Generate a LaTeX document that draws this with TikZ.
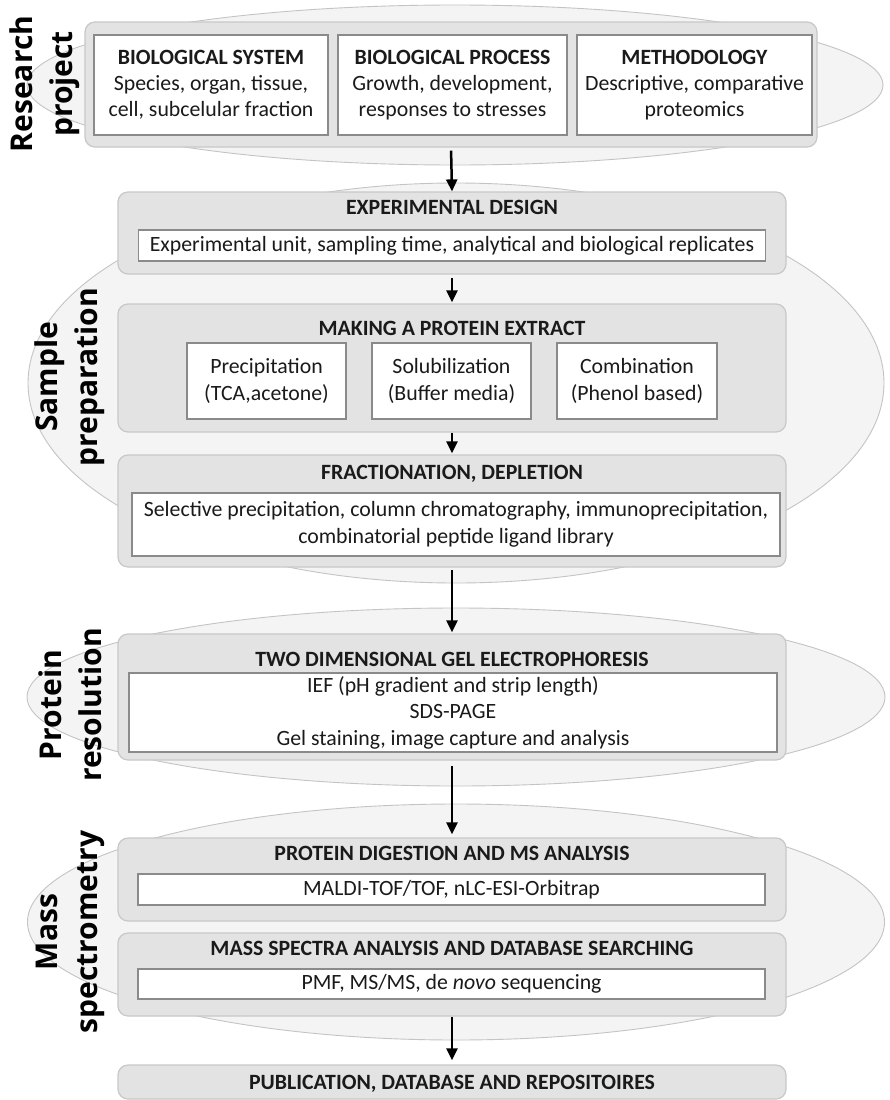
\documentclass[tikz,border=0pt]{standalone}
\usepackage{fontspec}
\setmainfont{Carlito}
\newfontfamily\labfont{Open Sans}
\usetikzlibrary{shapes.geometric,arrows.meta}
\definecolor{ellfill}{HTML}{F4F4F4}
\definecolor{elldraw}{HTML}{C4C4C4}
\definecolor{boxfill}{HTML}{E3E3E3}
\definecolor{boxdraw}{HTML}{C8C8C8}
\definecolor{inndraw}{HTML}{8A8A8A}
\definecolor{txt}{HTML}{1A1A1A}
\begin{document}
\begin{tikzpicture}[x=1pt,y=-1pt,
  ell/.style={ellipse,draw=elldraw,fill=ellfill,line width=0.9pt,inner sep=0pt},
  obox/.style={rectangle,rounded corners=10pt,draw=boxdraw,fill=boxfill,line width=1.2pt,inner sep=0pt,minimum width=668pt},
  ibox/.style={rectangle,draw=inndraw,fill=white,line width=1.3pt,inner sep=0pt,align=center,text=txt,
    font=\fontsize{21.8}{26.5}\selectfont},
  tbox/.style={ibox,font=\fontsize{21.8}{26}\selectfont},
  ttl/.style={inner sep=0pt,text=txt,font=\fontsize{21.8}{26}\selectfont\bfseries,text height=14pt,text depth=0pt},
  lab/.style={inner sep=0pt,rotate=90,align=center,text=black,font=\labfont\bfseries\fontsize{30}{40}\selectfont},
  arr/.style={-{Triangle[length=12pt,width=11pt]},line width=2.5pt,black}
]
\useasboundingbox (0,0) rectangle (889,1100);
\fill[white] (0,0) rectangle (889,1100);

% background ellipses
\node[ell,minimum width=856pt,minimum height=160pt] (e1) at (455,85) {};
\node[ell,minimum width=856pt,minimum height=400pt] (e2) at (456,383) {};
\node[ell,minimum width=858pt,minimum height=178pt] (e3) at (456,697) {};
\node[ell,minimum width=857pt,minimum height=236pt] (e4) at (456,922) {};

% side labels
\node[lab] (l1) at (45,84) {Research\\project};
\node[lab] (l2) at (70,377) {Sample\\preparation};
\node[lab] (l3) at (70,705) {Protein\\resolution};
\node[lab] (l4) at (70,932) {Mass\\spectrometry};

% research project
\node[obox,minimum width=732pt,minimum height=125pt] (rp) at (451,84.5) {};
\node[tbox,minimum width=234pt,minimum height=100pt] (b1) at (211,85) {\textbf{BIOLOGICAL SYSTEM}\\Species, organ, tissue,\\cell, subcelular fraction};
\node[tbox,minimum width=229pt,minimum height=100pt] (b2) at (452.5,85) {\textbf{BIOLOGICAL PROCESS}\\Growth, development,\\responses to stresses};
\node[tbox,minimum width=235pt,minimum height=100pt] (b3) at (694.5,85) {\textbf{METHODOLOGY}\\Descriptive, comparative\\proteomics};

% experimental design
\node[obox,minimum height=82pt] (ed) at (452,233) {};
\node[ttl] (edt) at (452,207) {EXPERIMENTAL DESIGN};
\node[ibox,minimum width=627pt,minimum height=31pt] (edi) at (452,245.5) {Experimental unit, sampling time, analytical and biological replicates};

% making a protein extract
\node[obox,minimum height=128pt] (mp) at (452,368) {};
\node[ttl] (mpt) at (452,328) {MAKING A PROTEIN EXTRACT};
\node[ibox,minimum width=159pt,minimum height=76pt] (m1) at (266.5,381) {Precipitation\\(TCA,acetone)};
\node[ibox,minimum width=159pt,minimum height=76pt] (m2) at (451.5,381) {Solubilization\\(Buffer media)};
\node[ibox,minimum width=160pt,minimum height=76pt] (m3) at (637,381) {Combination\\(Phenol based)};

% fractionation
\node[obox,minimum height=112pt] (fd) at (452,511) {};
\node[ttl] (fdt) at (452,472) {FRACTIONATION, DEPLETION};
\node[ibox,minimum width=648pt,minimum height=63pt] (fdi) at (456,524.5) {Selective precipitation, column chromatography, immunoprecipitation,\\combinatorial peptide ligand library};

% 2DE
\node[obox,minimum height=126pt] (td) at (452,697) {};
\node[ttl] (tdt) at (452,659) {TWO DIMENSIONAL GEL ELECTROPHORESIS};
\node[ibox,minimum width=648pt,minimum height=79pt] (tdi) at (453,712.5) {IEF (pH gradient and strip length)\\SDS-PAGE\\Gel staining, image capture and analysis};

% protein digestion
\node[obox,minimum height=83pt] (pd) at (452,879.5) {};
\node[ttl] (pdt) at (452,853) {PROTEIN DIGESTION AND MS ANALYSIS};
\node[ibox,minimum width=627pt,minimum height=31pt] (pdi) at (451.5,889.5) {MALDI-TOF/TOF, nLC-ESI-Orbitrap};

% mass spectra
\node[obox,minimum height=83pt] (ms) at (452,974.5) {};
\node[ttl] (mst) at (452,948) {MASS SPECTRA ANALYSIS AND DATABASE SEARCHING};
\node[ibox,minimum width=627pt,minimum height=30pt] (msi) at (451.5,984) {PMF, MS/MS, de \textit{novo} sequencing};

% publication
\node[obox,minimum height=34pt] (pu) at (452,1082) {};
\node[ttl] (put) at (452,1082) {PUBLICATION, DATABASE AND REPOSITOIRES};

% arrows
\draw[arr,shorten <=3pt] (rp.south) -- (ed.north);
\draw[arr,shorten <=3pt,shorten >=1pt] (ed.south) -- (mp.north);
\draw[arr,shorten >=1pt] (mp.south) -- (fd.north);
\draw[arr,shorten <=2pt,shorten >=1pt] (fd.south) -- (td.north);
\draw[arr,shorten <=5pt,shorten >=3pt] (td.south) -- (pd.north);
\draw[arr,shorten >=4pt] (ms.south) -- (pu.north);
\end{tikzpicture}
\end{document}
